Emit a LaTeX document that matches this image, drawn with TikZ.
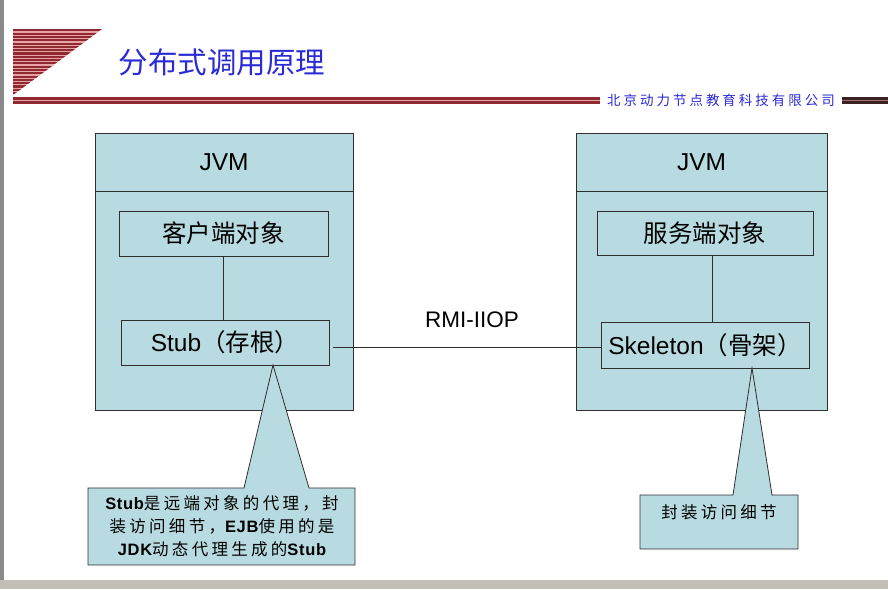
\documentclass[tikz,border=0pt]{standalone}
\usepackage{fontspec}
\setmainfont{Liberation Sans}
\newfontfamily\cjk{Noto Sans CJK SC}
\newfontfamily\cjksp[LetterSpace=20]{Noto Sans CJK SC}
\newfontfamily\latsp[LetterSpace=4]{Liberation Sans}
\newfontfamily\cjkco[LetterSpace=22]{Noto Sans CJK SC}
\definecolor{jvmblue}{HTML}{B8DBE1}
\definecolor{edge}{HTML}{2E2E2E}
\definecolor{titleblue}{HTML}{2A2AD6}
\definecolor{stripered}{HTML}{8E2A30}
\definecolor{stripepink}{HTML}{E9A3A6}
\definecolor{darkbar}{HTML}{3A2222}
\definecolor{leftbar}{HTML}{8A8A8A}
\definecolor{bottombar}{HTML}{C3BEB6}
\begin{document}
\begin{tikzpicture}[x=1pt,y=-1pt,
  box/.style={draw=edge, fill=jvmblue, line width=0.8pt, inner sep=0pt},
  bigtxt/.style={font=\fontsize{24.5}{28}\selectfont},
  wire/.style={draw=edge, line width=0.8pt},
  callout/.style={draw=edge, fill=jvmblue, line width=0.8pt, line join=miter}]
\useasboundingbox (0,0) rectangle (888,589);
\fill[white] (0,0) rectangle (888,589);
\fill[leftbar] (0,0) rectangle (4,589);
\fill[bottombar] (0,580) rectangle (888,589);
% header triangle
\begin{scope}
\clip (13,29) -- (102,29) -- (13,95) -- cycle;
\fill[stripepink] (13,29) rectangle (102,95);
\foreach \y in {29.3,32.6,...,95} \fill[stripered] (13,\y) rectangle (102,\y+2.1);
\end{scope}
% header bar
\fill[stripered] (13,97) rectangle (600,103.5);
\fill[stripepink] (13,99.6) rectangle (600,100.9);
\fill[darkbar] (842,97) rectangle (888,103.5);
\fill[stripepink!60!darkbar] (842,99.6) rectangle (888,100.9);
\node[text=titleblue, font=\cjk\fontsize{29.5}{32}\selectfont] (title) at (222,62) {分布式调用原理};
\node[text=titleblue, font=\cjkco\fontsize{13.5}{15}\selectfont] (company) at (721,100) {北京动力节点教育科技有限公司};
% left JVM
\node[box, minimum width=258, minimum height=58, bigtxt] (hdrL) at (224,162) {JVM};
\node[box, minimum width=258, minimum height=219] (jvmL) at (224,300.5) {};
\node[box, minimum width=209, minimum height=45, bigtxt] (client) at (223.5,233.5) {\cjk 客户端对象};
\node[box, minimum width=208, minimum height=45, bigtxt] (stub) at (225,342.5) {Stub{\cjk（存根）}};
\draw[wire] (client.south) -- (client.south |- stub.north);
% right JVM
\node[box, minimum width=251, minimum height=58, bigtxt] (hdrR) at (701.5,162) {JVM};
\node[box, minimum width=251, minimum height=219] (jvmR) at (701.5,300.5) {};
\node[box, minimum width=216, minimum height=44, bigtxt] (server) at (705,233) {\cjk 服务端对象};
\node[box, minimum width=208, minimum height=46, bigtxt] (skel) at (705,345) {Skeleton{\cjk（骨架）}};
\draw[wire] ([xshift=7pt]server.south) -- ([xshift=7pt]server.south |- skel.north);
% connector
\coordinate (c1) at (333,347);
\draw[wire] (c1) -- (skel.west |- c1);
\node[font=\fontsize{22.5}{26}\selectfont] (rmi) at (472,320) {RMI-IIOP};
% callouts
\coordinate (tipL) at (273,365);
\coordinate (tipR) at (752,368);
\path[callout] (88,488) -- (244,488) -- (tipL) -- (309,488) -- (355,488) -- (355,565) -- (88,565) -- cycle;
\path[callout] (640,495) -- (733,495) -- (tipR) -- (772,495) -- (798,495) -- (798,549) -- (640,549) -- cycle;
\node[align=center, font=\fontsize{16.5}{23}\selectfont] (noteL) at (222,526)
  {{\latsp\bfseries Stub}{\cjksp 是远端对象的代理，封}\\
   {\cjksp 装访问细节，}{\latsp\bfseries EJB}{\cjksp 使用的是}\\
   {\latsp\bfseries JDK}{\cjksp 动态代理生成的}{\latsp\bfseries Stub}};
\node[font=\cjksp\fontsize{16.5}{20}\selectfont] (noteR) at (719,512) {封装访问细节};
\end{tikzpicture}
\end{document}
